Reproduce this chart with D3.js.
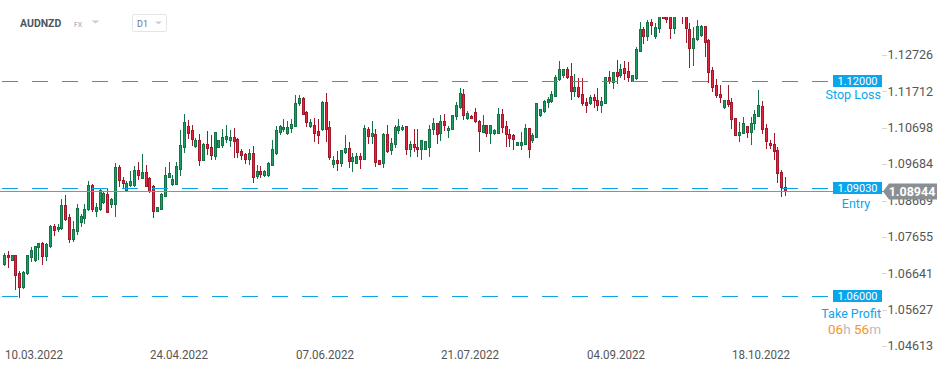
<!DOCTYPE html>
<html>
<head>
<meta charset="utf-8">
<script src="https://cdn.jsdelivr.net/npm/d3@7"></script>
<style>
	body { margin: 0; background: #fff; }
	svg { display: block; font-family: Roboto, 'Open Sans', sans-serif; }
</style>
</head>
<body>
<svg id="chart" width="949" height="373"></svg>
<script>

var symbol = 'AUDNZD';
var interval = 'D1';
var firstDay = '2022-03-10';

var opens = [1.0690,1.0715,1.0701,1.0715,1.0665,1.0626,1.0665,1.0710,1.0701,1.0738,1.0749,1.0713,1.0740,1.0796,1.0788,1.0791,1.0855,1.0821,1.0760,1.0782,
	1.0807,1.0818,1.0843,1.0910,1.0838,1.0843,1.0863,1.0885,1.0857,1.0857,1.0960,1.0924,1.0896,1.0910,1.0910,1.0952,1.0930,1.0947,1.0930,1.0908,
	1.0838,1.0843,1.0880,1.0933,1.0913,1.0913,1.0955,1.1016,1.1075,1.1064,1.1019,1.1036,1.0980,1.1025,1.1016,1.0991,1.1016,1.1022,1.1038,1.1036,
	1.1044,1.1038,1.1005,1.0997,1.0983,1.0999,1.0935,1.0949,1.0938,1.0938,1.0966,1.0999,1.1058,1.1066,1.1055,1.1069,1.1075,1.1139,1.1153,1.1114,
	1.1075,1.1077,1.1061,1.1066,1.1142,1.1072,1.0969,1.0980,1.0972,1.1002,1.1013,1.0977,1.0972,1.0991,1.0983,1.1066,1.1047,1.1052,1.0980,1.0972,
	1.1052,1.1008,1.1025,1.1064,1.1066,1.1075,1.1011,1.1025,1.1016,1.1011,1.1011,1.1016,1.1066,1.1083,1.1055,1.1089,1.1064,1.1066,1.1103,1.1128,
	1.1164,1.1097,1.1103,1.1114,1.1089,1.1058,1.1077,1.1055,1.1055,1.1055,1.1108,1.1075,1.1052,1.1050,1.1022,1.1022,1.1025,1.1069,1.1036,1.1044,
	1.1105,1.1116,1.1142,1.1144,1.1158,1.1206,1.1217,1.1233,1.1214,1.1172,1.1183,1.1164,1.1142,1.1139,1.1155,1.1147,1.1133,1.1139,1.1211,1.1197,
	1.1225,1.1217,1.1236,1.1228,1.1200,1.1208,1.1284,1.1345,1.1325,1.1364,1.1325,1.1348,1.1403,1.1398,1.1412,1.1348,1.1401,1.1412,1.1392,1.1345,
	1.1292,1.1317,1.1328,1.1353,1.1314,1.1231,1.1189,1.1164,1.1128,1.1147,1.1142,1.1097,1.1050,1.1055,1.1075,1.1058,1.1083,1.1103,1.1130,1.1069,
	1.1027,1.1025,1.1008,1.0947,1.0905];

var highs = [1.0721,1.0726,1.0716,1.0716,1.0671,1.0671,1.0716,1.0738,1.0741,1.0749,1.0752,1.0749,1.0799,1.0802,1.0802,1.0871,1.0882,1.0830,1.0810,1.0857,
	1.0830,1.0857,1.0922,1.0913,1.0860,1.0899,1.0891,1.0902,1.0874,1.0972,1.0966,1.0933,1.0922,1.0949,1.0963,1.0974,1.0997,1.0966,1.0933,1.0909,
	1.0850,1.0888,1.0960,1.0974,1.0938,1.0974,1.1064,1.1108,1.1091,1.1077,1.1041,1.1052,1.1026,1.1061,1.1050,1.1059,1.1037,1.1066,1.1077,1.1064,
	1.1069,1.1041,1.1011,1.0999,1.1011,1.1019,1.0966,1.0963,1.0952,1.0973,1.1036,1.1075,1.1077,1.1094,1.1089,1.1094,1.1161,1.1161,1.1155,1.1116,
	1.1094,1.1097,1.1094,1.1144,1.1167,1.1089,1.0991,1.1005,1.1009,1.1050,1.1030,1.0999,1.0999,1.0999,1.1077,1.1072,1.1089,1.1066,1.0981,1.1055,
	1.1077,1.1041,1.1077,1.1094,1.1077,1.1076,1.1033,1.1066,1.1066,1.1037,1.1034,1.1077,1.1097,1.1084,1.1105,1.1108,1.1075,1.1106,1.1142,1.1180,
	1.1178,1.1116,1.1104,1.1125,1.1090,1.1105,1.1078,1.1078,1.1066,1.1125,1.1122,1.1089,1.1066,1.1051,1.1031,1.1058,1.1080,1.1070,1.1055,1.1140,
	1.1123,1.1147,1.1155,1.1172,1.1217,1.1256,1.1234,1.1239,1.1250,1.1220,1.1208,1.1208,1.1153,1.1161,1.1164,1.1180,1.1155,1.1212,1.1228,1.1226,
	1.1259,1.1247,1.1256,1.1253,1.1218,1.1295,1.1364,1.1350,1.1370,1.1373,1.1362,1.1403,1.1412,1.1409,1.1420,1.1417,1.1426,1.1423,1.1403,1.1362,
	1.1350,1.1370,1.1356,1.1354,1.1317,1.1239,1.1206,1.1189,1.1148,1.1189,1.1153,1.1098,1.1086,1.1100,1.1076,1.1100,1.1119,1.1175,1.1144,1.1080,
	1.1036,1.1055,1.1016,1.0952,1.0933];

var lows = [1.0688,1.0682,1.0700,1.0621,1.0598,1.0623,1.0662,1.0699,1.0699,1.0704,1.0690,1.0701,1.0738,1.0771,1.0782,1.0788,1.0813,1.0752,1.0754,1.0774,
	1.0796,1.0804,1.0841,1.0838,1.0824,1.0841,1.0860,1.0835,1.0849,1.0824,1.0908,1.0902,1.0894,1.0908,1.0908,1.0927,1.0930,1.0908,1.0891,1.0821,
	1.0837,1.0842,1.0879,1.0932,1.0910,1.0912,1.0938,1.1002,1.1041,1.1022,1.1016,1.0966,1.0979,1.0997,1.0983,1.0983,1.1015,1.1016,1.1030,1.1019,
	1.0988,1.0988,1.0983,1.0972,1.0969,1.0919,1.0930,1.0933,1.0935,1.0935,1.0965,1.0997,1.1052,1.1061,1.1052,1.1058,1.1074,1.1133,1.1107,1.1075,
	1.1072,1.1033,1.1027,1.1064,1.1033,1.0983,1.0960,1.0952,1.0963,1.0999,1.0960,1.0949,1.0971,1.0958,1.0982,1.1027,1.1027,1.0963,1.0968,1.0960,
	1.1002,1.0997,1.1016,1.1055,1.1064,1.0997,1.0991,1.1005,1.0991,1.0983,1.1010,1.0991,1.1052,1.1027,1.1036,1.1064,1.1044,1.1065,1.1094,1.1125,
	1.1094,1.1094,1.1096,1.1086,1.1005,1.1057,1.1047,1.1027,1.1052,1.1054,1.1058,1.1019,1.1019,1.1011,1.1021,1.1011,1.1024,1.0988,1.1030,1.1043,
	1.1103,1.1114,1.1128,1.1142,1.1157,1.1203,1.1211,1.1208,1.1150,1.1158,1.1155,1.1133,1.1114,1.1136,1.1128,1.1119,1.1114,1.1138,1.1194,1.1180,
	1.1194,1.1211,1.1206,1.1200,1.1199,1.1207,1.1283,1.1306,1.1314,1.1331,1.1320,1.1337,1.1375,1.1364,1.1320,1.1334,1.1387,1.1362,1.1309,1.1239,
	1.1245,1.1314,1.1325,1.1270,1.1197,1.1172,1.1155,1.1142,1.1125,1.1130,1.1069,1.1049,1.1033,1.1054,1.1044,1.1025,1.1066,1.1102,1.1055,1.1013,
	1.1013,1.0983,1.0919,1.0880,1.0882];

var closes = [1.0715,1.0710,1.0715,1.0660,1.0626,1.0668,1.0715,1.0729,1.0740,1.0749,1.0713,1.0746,1.0796,1.0785,1.0793,1.0855,1.0816,1.0760,1.0788,1.0846,
	1.0824,1.0843,1.0910,1.0843,1.0849,1.0896,1.0888,1.0835,1.0871,1.0960,1.0924,1.0916,1.0916,1.0922,1.0952,1.0938,1.0947,1.0908,1.0894,1.0838,
	1.0849,1.0885,1.0938,1.0944,1.0927,1.0963,1.1022,1.1086,1.1055,1.1038,1.1036,1.0980,1.1025,1.1013,1.0994,1.1058,1.1036,1.1044,1.1047,1.1044,
	1.1033,1.1002,1.0994,1.0983,1.0999,1.0933,1.0949,1.0941,1.0949,1.0972,1.1011,1.1064,1.1075,1.1072,1.1072,1.1080,1.1139,1.1153,1.1108,1.1086,
	1.1086,1.1055,1.1050,1.1142,1.1066,1.0988,1.0980,1.0972,1.1008,1.1013,1.0977,1.0988,1.0991,1.0983,1.1069,1.1047,1.1055,1.0974,1.0969,1.1052,
	1.1005,1.1027,1.1072,1.1075,1.1072,1.1011,1.1025,1.1016,1.1011,1.1036,1.1033,1.1066,1.1083,1.1052,1.1089,1.1077,1.1069,1.1105,1.1133,1.1167,
	1.1105,1.1111,1.1097,1.1089,1.1061,1.1077,1.1055,1.1077,1.1064,1.1108,1.1072,1.1052,1.1041,1.1038,1.1030,1.1030,1.1069,1.1011,1.1050,1.1139,
	1.1122,1.1144,1.1150,1.1164,1.1211,1.1233,1.1233,1.1211,1.1172,1.1183,1.1158,1.1139,1.1133,1.1155,1.1147,1.1133,1.1144,1.1211,1.1200,1.1225,
	1.1214,1.1233,1.1222,1.1211,1.1217,1.1289,1.1345,1.1325,1.1364,1.1356,1.1350,1.1392,1.1377,1.1373,1.1348,1.1403,1.1415,1.1392,1.1348,1.1292,
	1.1320,1.1353,1.1353,1.1309,1.1225,1.1183,1.1161,1.1155,1.1147,1.1136,1.1094,1.1050,1.1058,1.1083,1.1058,1.1083,1.1108,1.1133,1.1066,1.1033,
	1.1022,1.1005,1.0944,1.0905,1.08944];

var priceTicks = [1.12726, 1.11712, 1.10698, 1.09684, 1.08669, 1.07655, 1.06641, 1.05627, 1.04613];
var dateTicks = ['10.03.2022', '24.04.2022', '07.06.2022', '21.07.2022', '04.09.2022', '18.10.2022'];

var levelNames = ['Stop Loss', 'Entry', 'Take Profit'];
var levelValues = [1.12, 1.0903, 1.06];
var lastPrice = 1.08944;
var countdown = ['06', 'h ', '56', 'm'];

// daily candles, the feed has no saturday bars
var fmt = d3.timeFormat('%d.%m.%Y');
var days = [];
var d = d3.timeParse('%Y-%m-%d')(firstDay);
while (days.length < closes.length) {
	if (d.getDay() !== 6)
		days.push(fmt(d));
	d = d3.timeDay.offset(d, 1);
}

var data = closes.map(function(c, i) {
	return { day: days[i], o: opens[i], h: highs[i], l: lows[i], c: c };
});

var svg = d3.select('#chart');
var BLUE = '#0ba5ec';
var GREEN = '#1f9b66', GREENLINE = '#137246';
var RED = '#e2263d', REDLINE = '#a3172a';

var x = d3.scaleBand().domain(days).range([2, 787]).padding(0);
var y = d3.scaleLinear().domain([1.04613, 1.12726]).range([346, 55]);
var cx = function(day) { return Math.round(x(day) + x.bandwidth() / 2); };
var cy = function(v) { return Math.round(y(v)); };

svg.append('defs').append('clipPath').attr('id', 'plot')
	.append('rect').attr('x', 0).attr('y', 17).attr('width', 880).attr('height', 340);

// header
var head = svg.append('g');
head.append('text').attr('x', 20).attr('y', 27).attr('font-size', 10.5).attr('font-weight', 700).attr('fill', '#4b5660').text(symbol);
head.append('text').attr('x', 74).attr('y', 27).attr('font-size', 7).attr('fill', '#9aa3ab').text('FX');
head.append('path').attr('d', 'M91.5,20.5h8l-4,3z').attr('fill', '#c9ced3');
head.append('rect').attr('x', 132.5).attr('y', 14.5).attr('width', 34).attr('height', 17).attr('rx', 2).attr('fill', '#fff').attr('stroke', '#e1e4e8');
head.append('text').attr('x', 137).attr('y', 27).attr('font-size', 9).attr('fill', '#6b747c').text(interval);
head.append('path').attr('d', 'M155,21.5h7l-3.5,3z').attr('fill', '#c9ced3');

// price axis
var yaxis = svg.append('g');
priceTicks.forEach(function(t) {
	yaxis.append('line').attr('x1', 882).attr('x2', 887).attr('y1', cy(t) + 0.5).attr('y2', cy(t) + 0.5).attr('stroke', '#d4d7da');
	yaxis.append('text').attr('x', 933).attr('y', y(t)).attr('dy', '0.35em').attr('text-anchor', 'end')
		.attr('font-size', 12.5).attr('fill', '#555').text(t.toFixed(5));
});

// time axis
var xaxis = svg.append('g');
dateTicks.forEach(function(t) {
	if (x(t) === undefined)
		return;
	xaxis.append('text').attr('x', cx(t) + 1).attr('y', 359).attr('font-size', 12).attr('fill', '#555')
		.attr('textLength', 58).attr('lengthAdjust', 'spacingAndGlyphs').text(t);
});

// candles
var plot = svg.append('g').attr('clip-path', 'url(#plot)').attr('shape-rendering', 'crispEdges');
var candle = plot.selectAll('g.candle').data(data).enter().append('g').attr('class', 'candle');
candle.append('line')
	.attr('x1', function(d) { return cx(d.day) + 0.5; })
	.attr('x2', function(d) { return cx(d.day) + 0.5; })
	.attr('y1', function(d) { return cy(d.h); })
	.attr('y2', function(d) { return cy(d.l) + 1; })
	.attr('stroke', function(d) { return d.c >= d.o ? GREENLINE : REDLINE; });
candle.append('rect')
	.attr('x', function(d) { return cx(d.day) - 0.5; })
	.attr('y', function(d) { return cy(Math.max(d.o, d.c)) + 0.5; })
	.attr('width', 2)
	.attr('height', function(d) { return Math.max(cy(Math.min(d.o, d.c)) - cy(Math.max(d.o, d.c)), 1); })
	.attr('fill', function(d) { return d.c >= d.o ? GREEN : RED; })
	.attr('stroke', function(d) { return d.c >= d.o ? GREENLINE : REDLINE; });

// current price line
svg.append('line').attr('x1', 0).attr('x2', 884).attr('y1', cy(lastPrice) + 0.5).attr('y2', cy(lastPrice) + 0.5)
	.attr('stroke', '#8d9196').attr('shape-rendering', 'crispEdges');

// trade levels
var levels = svg.append('g');
var textDy = [18, 20, 22];
levelValues.forEach(function(v, i) {
	var ly = cy(v) + 0.5;
	levels.append('line').attr('x1', 2).attr('x2', 828).attr('y1', ly).attr('y2', ly)
		.attr('stroke', BLUE).attr('stroke-dasharray', '16,14').attr('shape-rendering', 'crispEdges');
	levels.append('rect').attr('x', 833).attr('y', cy(v) - 6).attr('width', 49).attr('height', 12).attr('fill', BLUE);
	levels.append('text').attr('x', 857.5).attr('y', cy(v)).attr('dy', '0.36em').attr('text-anchor', 'middle')
		.attr('font-size', 11).attr('fill', '#fff').text(v.toFixed(5));
	levels.append('text').attr('x', i === 1 ? 856 : 881).attr('y', cy(v) + textDy[i]).attr('text-anchor', i === 1 ? 'middle' : 'end')
		.attr('font-size', 12.5).attr('fill', BLUE).text(levelNames[i]);
});

var timer = levels.append('text').attr('x', 881).attr('y', cy(levelValues[2]) + 38).attr('text-anchor', 'end').attr('font-size', 13.5);
countdown.forEach(function(s, i) {
	timer.append('tspan').attr('fill', i % 2 ? '#b9bdc1' : '#f7941d').text(s);
});

// last price badge
var by = cy(lastPrice);
svg.append('path').attr('d', 'M883,' + (by + 0.5) + 'L889,' + (by - 7.5) + 'H937V' + (by + 8.5) + 'H889Z').attr('fill', '#8a8f94');
svg.append('text').attr('x', 912).attr('y', by + 0.5).attr('dy', '0.36em').attr('text-anchor', 'middle')
	.attr('font-size', 12.5).attr('font-weight', 700).attr('fill', '#fff').text(lastPrice.toFixed(5));

</script>
</body>
</html>
